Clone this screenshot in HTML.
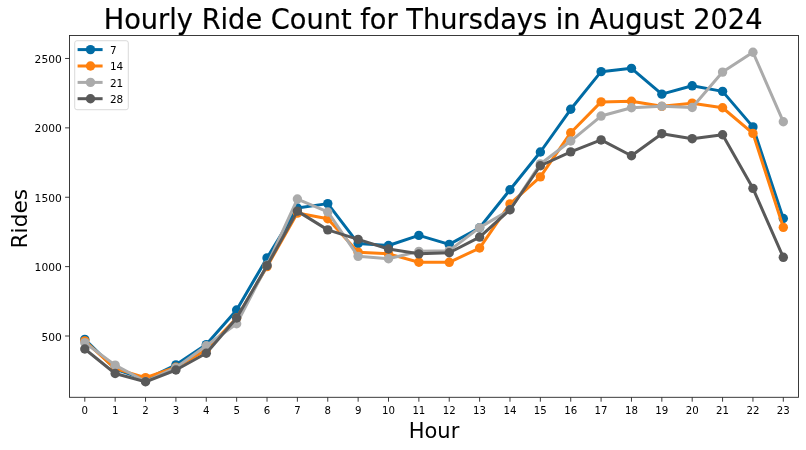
<!DOCTYPE html>
<html lang="en"><head><meta charset="utf-8"><title>Hourly Ride Count for Thursdays in August 2024</title>
<style>html,body{margin:0;padding:0;background:#fff;}svg{display:block;}text{font-family:"DejaVu Sans","Liberation Sans",sans-serif;fill:#000;}</style></head><body>
<svg width="806" height="450" viewBox="0 0 806 450">
<rect x="0" y="0" width="806" height="450" fill="#ffffff"/>
<defs><clipPath id="ax"><rect x="69.5" y="35.5" width="729.00" height="361.80"/></clipPath></defs>
<g clip-path="url(#ax)">
<polyline points="84.80,339.33 115.17,369.02 145.54,379.71 175.91,364.86 206.28,344.60 236.65,310.05 267.02,257.88 297.39,208.06 327.76,203.62 358.13,243.45 388.50,245.53 418.87,235.40 449.24,244.42 479.61,227.77 509.98,189.75 540.35,152.00 570.72,109.27 601.09,71.66 631.46,68.33 661.83,94.14 692.20,85.82 722.57,91.37 752.94,126.89 783.31,218.47" fill="none" stroke="#006BA4" stroke-width="3.0" stroke-linejoin="round" stroke-linecap="square"/>
<circle cx="84.80" cy="339.33" r="4.7" fill="#006BA4"/>
<circle cx="115.17" cy="369.02" r="4.7" fill="#006BA4"/>
<circle cx="145.54" cy="379.71" r="4.7" fill="#006BA4"/>
<circle cx="175.91" cy="364.86" r="4.7" fill="#006BA4"/>
<circle cx="206.28" cy="344.60" r="4.7" fill="#006BA4"/>
<circle cx="236.65" cy="310.05" r="4.7" fill="#006BA4"/>
<circle cx="267.02" cy="257.88" r="4.7" fill="#006BA4"/>
<circle cx="297.39" cy="208.06" r="4.7" fill="#006BA4"/>
<circle cx="327.76" cy="203.62" r="4.7" fill="#006BA4"/>
<circle cx="358.13" cy="243.45" r="4.7" fill="#006BA4"/>
<circle cx="388.50" cy="245.53" r="4.7" fill="#006BA4"/>
<circle cx="418.87" cy="235.40" r="4.7" fill="#006BA4"/>
<circle cx="449.24" cy="244.42" r="4.7" fill="#006BA4"/>
<circle cx="479.61" cy="227.77" r="4.7" fill="#006BA4"/>
<circle cx="509.98" cy="189.75" r="4.7" fill="#006BA4"/>
<circle cx="540.35" cy="152.00" r="4.7" fill="#006BA4"/>
<circle cx="570.72" cy="109.27" r="4.7" fill="#006BA4"/>
<circle cx="601.09" cy="71.66" r="4.7" fill="#006BA4"/>
<circle cx="631.46" cy="68.33" r="4.7" fill="#006BA4"/>
<circle cx="661.83" cy="94.14" r="4.7" fill="#006BA4"/>
<circle cx="692.20" cy="85.82" r="4.7" fill="#006BA4"/>
<circle cx="722.57" cy="91.37" r="4.7" fill="#006BA4"/>
<circle cx="752.94" cy="126.89" r="4.7" fill="#006BA4"/>
<circle cx="783.31" cy="218.47" r="4.7" fill="#006BA4"/>
<polyline points="84.80,340.86 115.17,368.61 145.54,377.63 175.91,367.22 206.28,349.88 236.65,317.96 267.02,266.62 297.39,213.06 327.76,218.75 358.13,252.19 388.50,253.85 418.87,262.18 449.24,262.32 479.61,248.03 509.98,203.90 540.35,176.84 570.72,132.72 601.09,101.91 631.46,101.22 661.83,106.35 692.20,103.16 722.57,107.74 752.94,133.41 783.31,227.35" fill="none" stroke="#FF800E" stroke-width="3.0" stroke-linejoin="round" stroke-linecap="square"/>
<circle cx="84.80" cy="340.86" r="4.7" fill="#FF800E"/>
<circle cx="115.17" cy="368.61" r="4.7" fill="#FF800E"/>
<circle cx="145.54" cy="377.63" r="4.7" fill="#FF800E"/>
<circle cx="175.91" cy="367.22" r="4.7" fill="#FF800E"/>
<circle cx="206.28" cy="349.88" r="4.7" fill="#FF800E"/>
<circle cx="236.65" cy="317.96" r="4.7" fill="#FF800E"/>
<circle cx="267.02" cy="266.62" r="4.7" fill="#FF800E"/>
<circle cx="297.39" cy="213.06" r="4.7" fill="#FF800E"/>
<circle cx="327.76" cy="218.75" r="4.7" fill="#FF800E"/>
<circle cx="358.13" cy="252.19" r="4.7" fill="#FF800E"/>
<circle cx="388.50" cy="253.85" r="4.7" fill="#FF800E"/>
<circle cx="418.87" cy="262.18" r="4.7" fill="#FF800E"/>
<circle cx="449.24" cy="262.32" r="4.7" fill="#FF800E"/>
<circle cx="479.61" cy="248.03" r="4.7" fill="#FF800E"/>
<circle cx="509.98" cy="203.90" r="4.7" fill="#FF800E"/>
<circle cx="540.35" cy="176.84" r="4.7" fill="#FF800E"/>
<circle cx="570.72" cy="132.72" r="4.7" fill="#FF800E"/>
<circle cx="601.09" cy="101.91" r="4.7" fill="#FF800E"/>
<circle cx="631.46" cy="101.22" r="4.7" fill="#FF800E"/>
<circle cx="661.83" cy="106.35" r="4.7" fill="#FF800E"/>
<circle cx="692.20" cy="103.16" r="4.7" fill="#FF800E"/>
<circle cx="722.57" cy="107.74" r="4.7" fill="#FF800E"/>
<circle cx="752.94" cy="133.41" r="4.7" fill="#FF800E"/>
<circle cx="783.31" cy="227.35" r="4.7" fill="#FF800E"/>
<polyline points="84.80,342.66 115.17,365.14 145.54,381.51 175.91,367.64 206.28,345.71 236.65,323.79 267.02,265.23 297.39,199.04 327.76,211.95 358.13,256.35 388.50,258.71 418.87,251.36 449.24,250.66 479.61,227.63 509.98,209.73 540.35,163.94 570.72,141.04 601.09,116.07 631.46,107.74 661.83,106.21 692.20,107.46 722.57,72.08 752.94,52.24 783.31,121.75" fill="none" stroke="#ABABAB" stroke-width="3.0" stroke-linejoin="round" stroke-linecap="square"/>
<circle cx="84.80" cy="342.66" r="4.7" fill="#ABABAB"/>
<circle cx="115.17" cy="365.14" r="4.7" fill="#ABABAB"/>
<circle cx="145.54" cy="381.51" r="4.7" fill="#ABABAB"/>
<circle cx="175.91" cy="367.64" r="4.7" fill="#ABABAB"/>
<circle cx="206.28" cy="345.71" r="4.7" fill="#ABABAB"/>
<circle cx="236.65" cy="323.79" r="4.7" fill="#ABABAB"/>
<circle cx="267.02" cy="265.23" r="4.7" fill="#ABABAB"/>
<circle cx="297.39" cy="199.04" r="4.7" fill="#ABABAB"/>
<circle cx="327.76" cy="211.95" r="4.7" fill="#ABABAB"/>
<circle cx="358.13" cy="256.35" r="4.7" fill="#ABABAB"/>
<circle cx="388.50" cy="258.71" r="4.7" fill="#ABABAB"/>
<circle cx="418.87" cy="251.36" r="4.7" fill="#ABABAB"/>
<circle cx="449.24" cy="250.66" r="4.7" fill="#ABABAB"/>
<circle cx="479.61" cy="227.63" r="4.7" fill="#ABABAB"/>
<circle cx="509.98" cy="209.73" r="4.7" fill="#ABABAB"/>
<circle cx="540.35" cy="163.94" r="4.7" fill="#ABABAB"/>
<circle cx="570.72" cy="141.04" r="4.7" fill="#ABABAB"/>
<circle cx="601.09" cy="116.07" r="4.7" fill="#ABABAB"/>
<circle cx="631.46" cy="107.74" r="4.7" fill="#ABABAB"/>
<circle cx="661.83" cy="106.21" r="4.7" fill="#ABABAB"/>
<circle cx="692.20" cy="107.46" r="4.7" fill="#ABABAB"/>
<circle cx="722.57" cy="72.08" r="4.7" fill="#ABABAB"/>
<circle cx="752.94" cy="52.24" r="4.7" fill="#ABABAB"/>
<circle cx="783.31" cy="121.75" r="4.7" fill="#ABABAB"/>
<polyline points="84.80,349.04 115.17,373.47 145.54,381.79 175.91,370.00 206.28,353.21 236.65,317.96 267.02,265.65 297.39,211.12 327.76,229.85 358.13,239.42 388.50,249.00 418.87,253.85 449.24,252.74 479.61,237.06 509.98,209.73 540.35,165.74 570.72,151.87 601.09,139.93 631.46,155.75 661.83,133.69 692.20,138.68 722.57,134.80 752.94,188.36 783.31,257.32" fill="none" stroke="#595959" stroke-width="3.0" stroke-linejoin="round" stroke-linecap="square"/>
<circle cx="84.80" cy="349.04" r="4.7" fill="#595959"/>
<circle cx="115.17" cy="373.47" r="4.7" fill="#595959"/>
<circle cx="145.54" cy="381.79" r="4.7" fill="#595959"/>
<circle cx="175.91" cy="370.00" r="4.7" fill="#595959"/>
<circle cx="206.28" cy="353.21" r="4.7" fill="#595959"/>
<circle cx="236.65" cy="317.96" r="4.7" fill="#595959"/>
<circle cx="267.02" cy="265.65" r="4.7" fill="#595959"/>
<circle cx="297.39" cy="211.12" r="4.7" fill="#595959"/>
<circle cx="327.76" cy="229.85" r="4.7" fill="#595959"/>
<circle cx="358.13" cy="239.42" r="4.7" fill="#595959"/>
<circle cx="388.50" cy="249.00" r="4.7" fill="#595959"/>
<circle cx="418.87" cy="253.85" r="4.7" fill="#595959"/>
<circle cx="449.24" cy="252.74" r="4.7" fill="#595959"/>
<circle cx="479.61" cy="237.06" r="4.7" fill="#595959"/>
<circle cx="509.98" cy="209.73" r="4.7" fill="#595959"/>
<circle cx="540.35" cy="165.74" r="4.7" fill="#595959"/>
<circle cx="570.72" cy="151.87" r="4.7" fill="#595959"/>
<circle cx="601.09" cy="139.93" r="4.7" fill="#595959"/>
<circle cx="631.46" cy="155.75" r="4.7" fill="#595959"/>
<circle cx="661.83" cy="133.69" r="4.7" fill="#595959"/>
<circle cx="692.20" cy="138.68" r="4.7" fill="#595959"/>
<circle cx="722.57" cy="134.80" r="4.7" fill="#595959"/>
<circle cx="752.94" cy="188.36" r="4.7" fill="#595959"/>
<circle cx="783.31" cy="257.32" r="4.7" fill="#595959"/>
</g>
<g stroke="#262626" stroke-width="0.9">
<line x1="84.80" y1="397.3" x2="84.80" y2="401.70"/>
<line x1="115.17" y1="397.3" x2="115.17" y2="401.70"/>
<line x1="145.54" y1="397.3" x2="145.54" y2="401.70"/>
<line x1="175.91" y1="397.3" x2="175.91" y2="401.70"/>
<line x1="206.28" y1="397.3" x2="206.28" y2="401.70"/>
<line x1="236.65" y1="397.3" x2="236.65" y2="401.70"/>
<line x1="267.02" y1="397.3" x2="267.02" y2="401.70"/>
<line x1="297.39" y1="397.3" x2="297.39" y2="401.70"/>
<line x1="327.76" y1="397.3" x2="327.76" y2="401.70"/>
<line x1="358.13" y1="397.3" x2="358.13" y2="401.70"/>
<line x1="388.50" y1="397.3" x2="388.50" y2="401.70"/>
<line x1="418.87" y1="397.3" x2="418.87" y2="401.70"/>
<line x1="449.24" y1="397.3" x2="449.24" y2="401.70"/>
<line x1="479.61" y1="397.3" x2="479.61" y2="401.70"/>
<line x1="509.98" y1="397.3" x2="509.98" y2="401.70"/>
<line x1="540.35" y1="397.3" x2="540.35" y2="401.70"/>
<line x1="570.72" y1="397.3" x2="570.72" y2="401.70"/>
<line x1="601.09" y1="397.3" x2="601.09" y2="401.70"/>
<line x1="631.46" y1="397.3" x2="631.46" y2="401.70"/>
<line x1="661.83" y1="397.3" x2="661.83" y2="401.70"/>
<line x1="692.20" y1="397.3" x2="692.20" y2="401.70"/>
<line x1="722.57" y1="397.3" x2="722.57" y2="401.70"/>
<line x1="752.94" y1="397.3" x2="752.94" y2="401.70"/>
<line x1="783.31" y1="397.3" x2="783.31" y2="401.70"/>
<line x1="69.5" y1="336.00" x2="65.10" y2="336.00"/>
<line x1="69.5" y1="266.62" x2="65.10" y2="266.62"/>
<line x1="69.5" y1="197.24" x2="65.10" y2="197.24"/>
<line x1="69.5" y1="127.86" x2="65.10" y2="127.86"/>
<line x1="69.5" y1="58.48" x2="65.10" y2="58.48"/>
</g>
<rect x="69.5" y="35.5" width="729.00" height="361.80" fill="none" stroke="#262626" stroke-width="0.9"/>
<rect x="74.7" y="40.7" width="53.6" height="69.0" rx="2.2" ry="2.2" fill="#ffffff" fill-opacity="0.8" stroke="#cccccc" stroke-opacity="0.8" stroke-width="0.9"/>
<g font-size="10.2">
<line x1="79.1" y1="49.6" x2="101.1" y2="49.6" stroke="#006BA4" stroke-width="3.0" stroke-linecap="square"/>
<circle cx="90.5" cy="49.6" r="4.7" fill="#006BA4"/>
<line x1="79.1" y1="66.0" x2="101.1" y2="66.0" stroke="#FF800E" stroke-width="3.0" stroke-linecap="square"/>
<circle cx="90.5" cy="66.0" r="4.7" fill="#FF800E"/>
<line x1="79.1" y1="82.4" x2="101.1" y2="82.4" stroke="#ABABAB" stroke-width="3.0" stroke-linecap="square"/>
<circle cx="90.5" cy="82.4" r="4.7" fill="#ABABAB"/>
<line x1="79.1" y1="98.7" x2="101.1" y2="98.7" stroke="#595959" stroke-width="3.0" stroke-linecap="square"/>
<circle cx="90.5" cy="98.7" r="4.7" fill="#595959"/>
</g>
<g transform="scale(1,1.035)">
<g font-size="10.2" text-anchor="middle">
<text x="84.80" y="400.19">0</text>
<text x="115.17" y="400.19">1</text>
<text x="145.54" y="400.19">2</text>
<text x="175.91" y="400.19">3</text>
<text x="206.28" y="400.19">4</text>
<text x="236.65" y="400.19">5</text>
<text x="267.02" y="400.19">6</text>
<text x="297.39" y="400.19">7</text>
<text x="327.76" y="400.19">8</text>
<text x="358.13" y="400.19">9</text>
<text x="388.50" y="400.19">10</text>
<text x="418.87" y="400.19">11</text>
<text x="449.24" y="400.19">12</text>
<text x="479.61" y="400.19">13</text>
<text x="509.98" y="400.19">14</text>
<text x="540.35" y="400.19">15</text>
<text x="570.72" y="400.19">16</text>
<text x="601.09" y="400.19">17</text>
<text x="631.46" y="400.19">18</text>
<text x="661.83" y="400.19">19</text>
<text x="692.20" y="400.19">20</text>
<text x="722.57" y="400.19">21</text>
<text x="752.94" y="400.19">22</text>
<text x="783.31" y="400.19">23</text>
</g>
<g font-size="10.7" text-anchor="end">
<text x="61.8" y="329.08">500</text>
<text x="61.8" y="262.05">1000</text>
<text x="61.8" y="195.01">1500</text>
<text x="61.8" y="127.98">2000</text>
<text x="61.8" y="60.95">2500</text>
</g>
<text id="title" x="433.10" y="27.63" font-size="27.23" text-anchor="middle" stroke="#000" stroke-width="0.2">Hourly Ride Count for Thursdays in August 2024</text>
<text id="xl" x="434.00" y="423.19" font-size="21.0" text-anchor="middle">Hour</text>
<text id="yl" transform="translate(26.9,211.30) rotate(-90)" font-size="21.0" text-anchor="middle">Rides</text>
<text x="109.9" y="51.98" font-size="10.5">7</text>
<text x="109.9" y="67.92" font-size="10.5">14</text>
<text x="109.9" y="83.86" font-size="10.5">21</text>
<text x="109.9" y="99.81" font-size="10.5">28</text>
</g>
</svg></body></html>
